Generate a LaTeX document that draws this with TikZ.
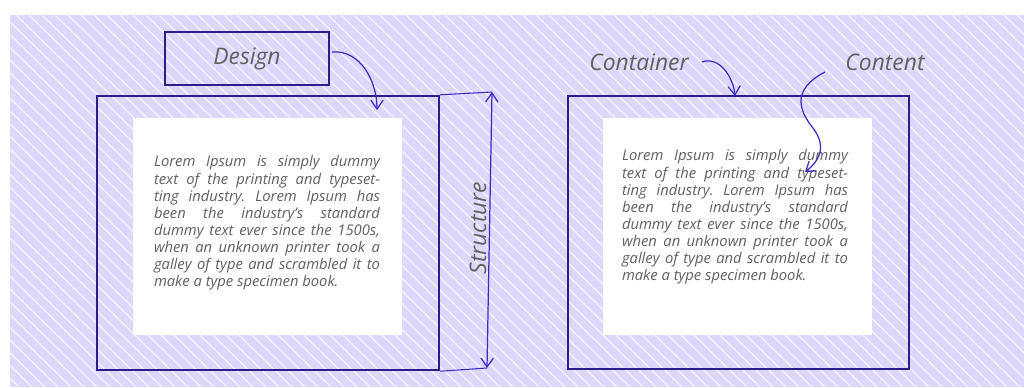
\documentclass[tikz,border=0pt]{standalone}
\usepackage{fontspec}
\setmainfont{Open Sans}
\usetikzlibrary{arrows.meta, positioning}
\definecolor{hatchfill}{HTML}{DCD7FB}
\definecolor{framecol}{HTML}{2B1D8C}
\definecolor{pencol}{HTML}{3B2BC4}
\definecolor{inkcol}{HTML}{606060}

\newcommand{\loremlines}{Lorem Ipsum is simply dummy\linebreak
text of the printing and typeset-\linebreak
ting industry. Lorem Ipsum has\linebreak
been the industry's standard\linebreak
dummy text ever since the 1500s,\linebreak
when an unknown printer took a\linebreak
galley of type and scrambled it to\linebreak
make a type specimen book.}

\begin{document}
\frenchspacing
\begin{tikzpicture}[x=0.02cm, y=-0.02cm,
    box/.style={draw=framecol, line width=1.4pt, inner sep=0pt},
    page/.style={fill=white, inner sep=0pt, minimum width=5.38cm, minimum height=4.34cm},
    lorem/.style={text=inkcol, text width=4.52cm, align=justify, inner sep=0pt,
      font=\itshape\fontsize{8.4}{9.75}\selectfont},
    caption/.style={text=inkcol, font=\itshape\fontsize{13}{15}\selectfont},
    pen/.style={draw=pencol, line width=0.7pt, -{Straight Barb[length=5pt,width=7pt]}}]
  \useasboundingbox (0,0) rectangle (1024,387);

  % scribbled background
  \fill[hatchfill] (10,15) rectangle (1024,387);
  \begin{scope}
    \clip (10,15) rectangle (1024,387);
    \foreach \i in {-400,-387,...,1024}
      \draw[white, line width=0.7pt, opacity=0.75] (\i,15) -- ++(380,372);
  \end{scope}

  % left sheet
  \node[box, minimum width=6.84cm, minimum height=5.48cm] (leftbox) at (268,233) {};
  \node[page] (leftpage) at (267.5,226.5) {};
  \node[lorem] (lefttext) at (267,223) {\loremlines};
  \node[box, minimum width=3.28cm, minimum height=1.06cm] (design) at (247,58.5) {};
  \node[caption] (designlbl) at (design) {Design};

  % right sheet
  \node[box, minimum width=6.82cm, minimum height=5.46cm] (rightbox) at (738.5,232.5) {};
  \node[page] (rightpage) at (737.5,226.5) {};
  \node[lorem] (righttext) at (735,217) {\loremlines};
  \node[caption] (container) at (639,62) {Container};
  \node[caption] (content) at (885,62) {Content};

  % structure dimension
  \coordinate (stop) at (492,92);
  \coordinate (sbot) at (487,368);
  \draw[draw=pencol, line width=0.6pt] (leftbox.north east) -- (stop);
  \draw[draw=pencol, line width=0.6pt] (leftbox.south east) -- (sbot);
  \draw[pen, {Straight Barb[length=5pt,width=7pt]}-{Straight Barb[length=5pt,width=7pt]}] (stop) -- (sbot);
  \node[caption, rotate=90] (structure) at (478,228) {Structure};

  % pointers
  \coordinate (designtail) at (332,52);
  \coordinate (designtip) at (377,110);
  \coordinate (containertip) at (735,96);
  \coordinate (contenttail) at (825,72);
  \coordinate (contenttip) at (805,172);
  \draw[pen] (designtail) to[out=5, in=90] (designtip);
  \draw[pen] ([xshift=4]container.east) to[out=20, in=95] (containertip);
  \draw[pen] (contenttail) .. controls (790,90) and (800,112) .. (813,128)
    .. controls (828,148) and (818,162) .. (contenttip);
\end{tikzpicture}
\end{document}
